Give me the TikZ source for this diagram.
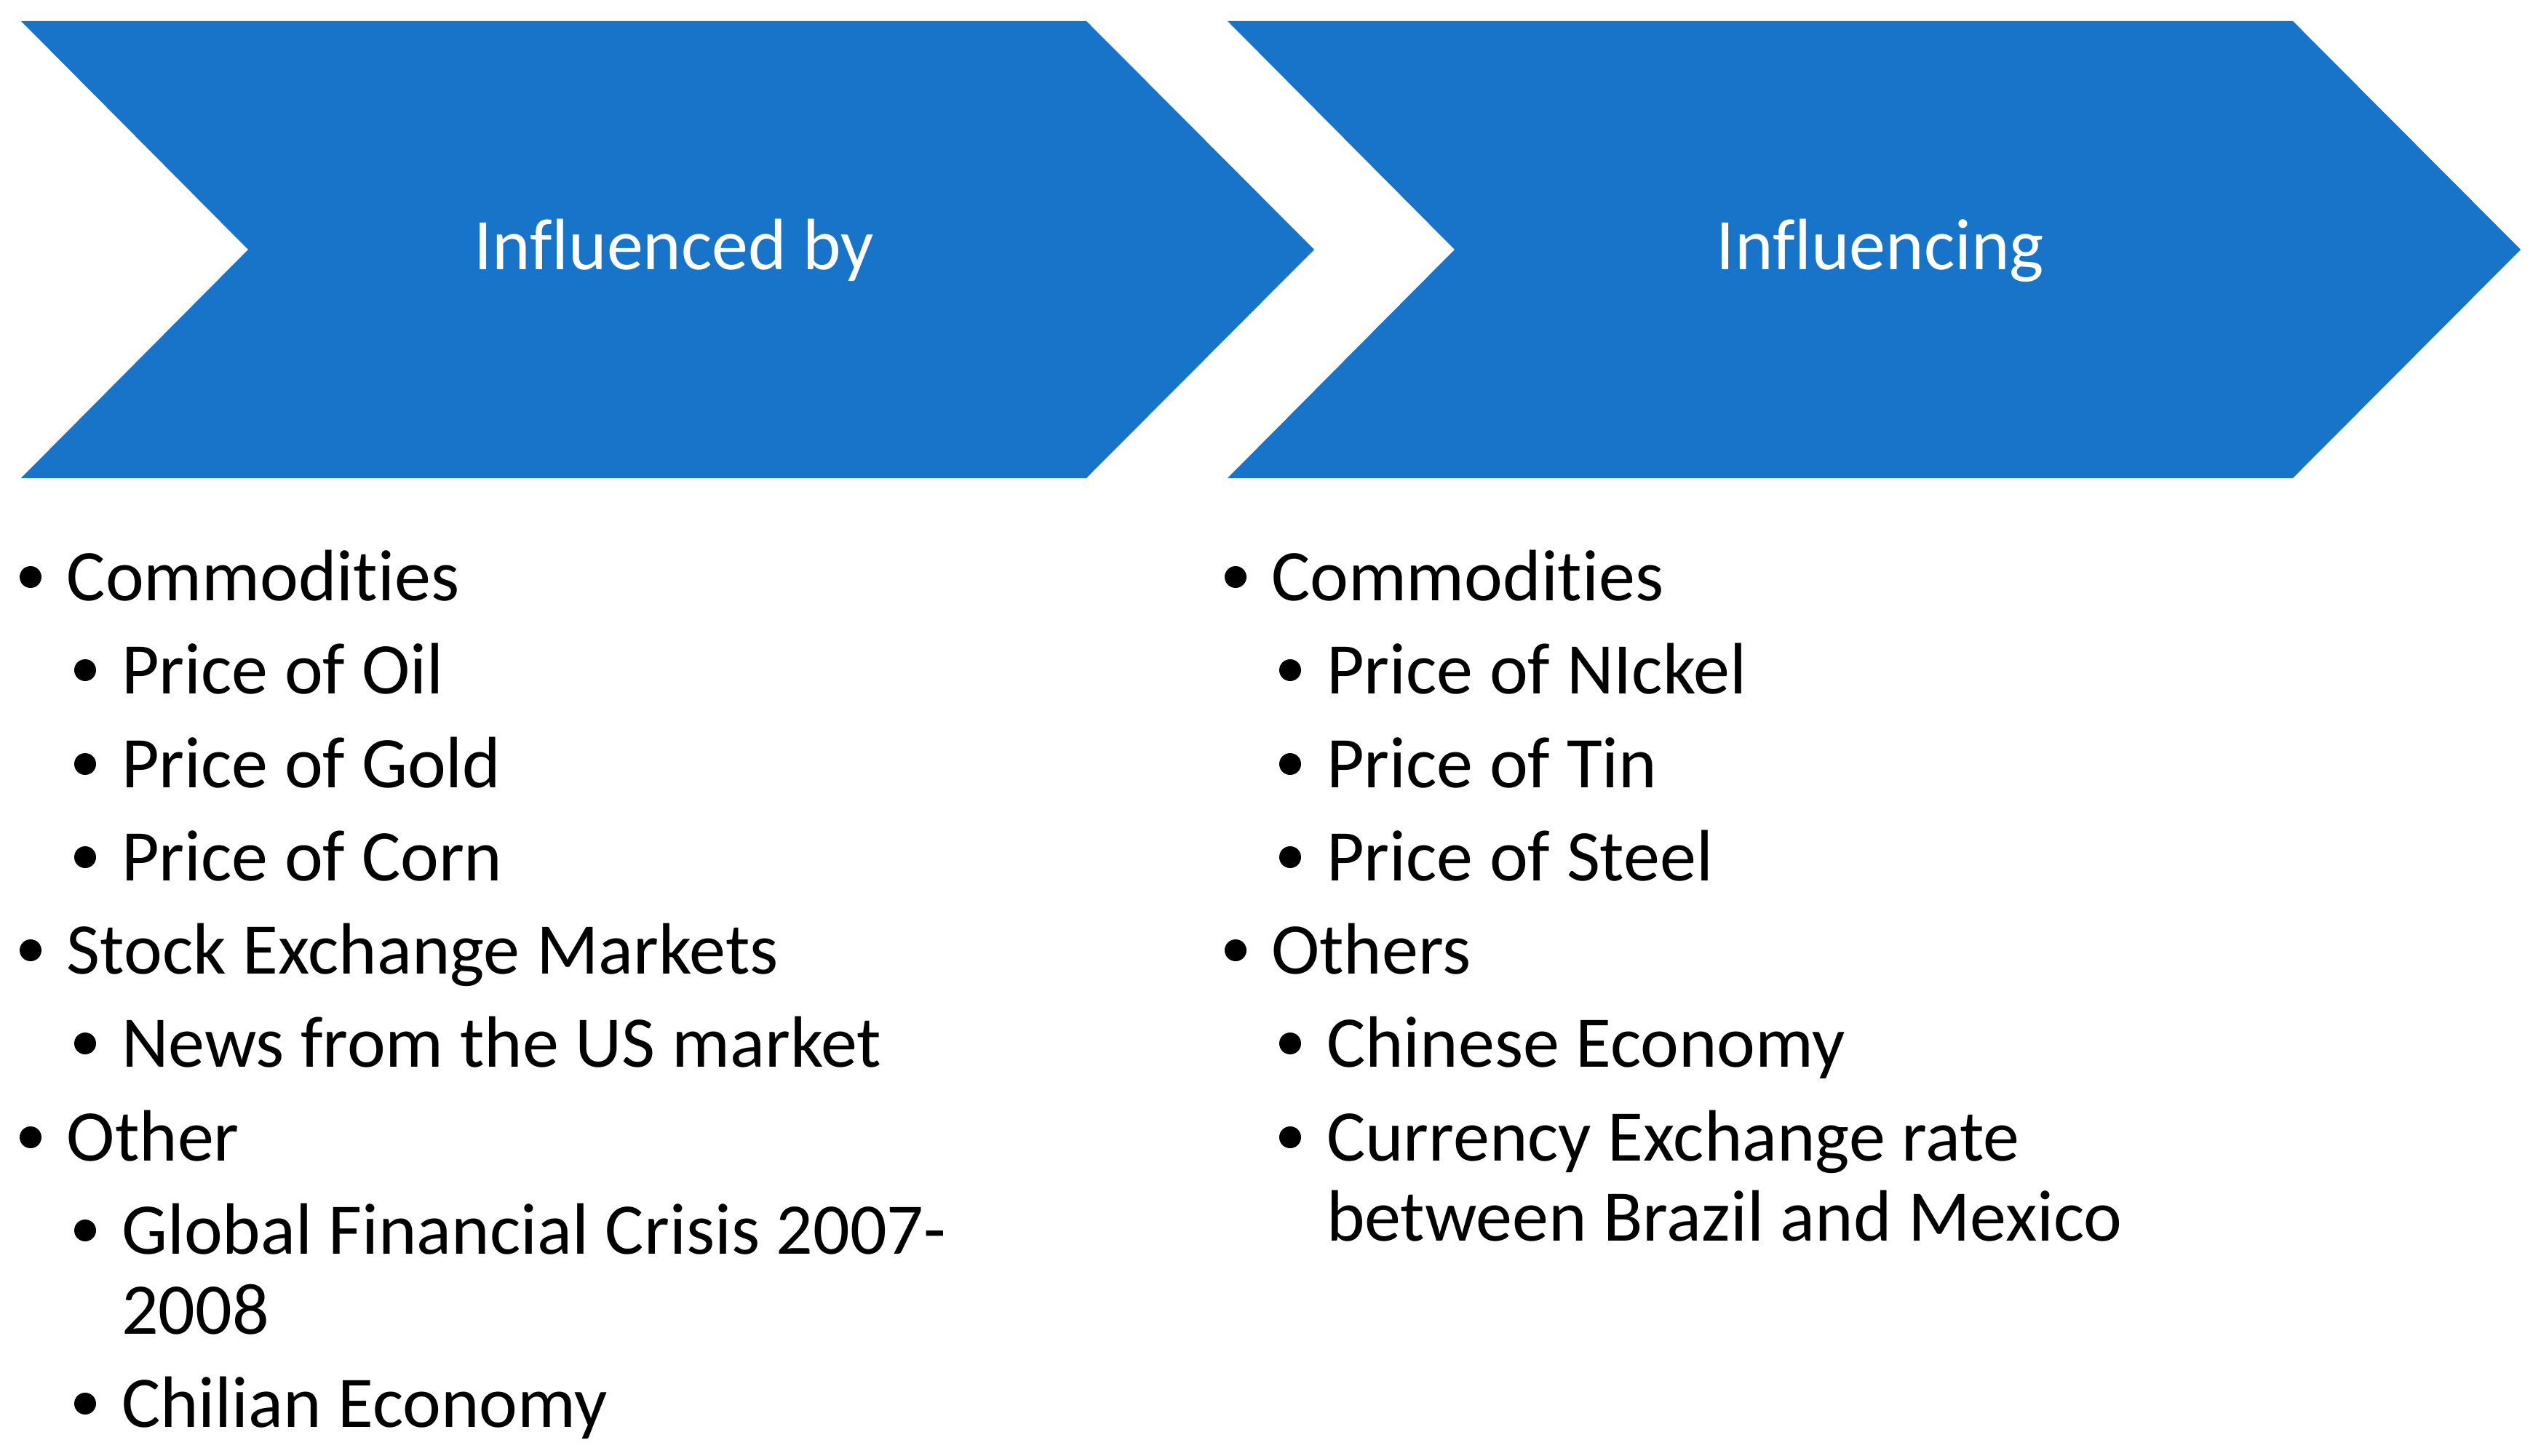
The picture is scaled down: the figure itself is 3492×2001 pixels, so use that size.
\documentclass[tikz,border=0pt]{standalone}
\usepackage{fontspec}
\setmainfont[Ligatures={NoCommon}]{Carlito}
\definecolor{chev}{RGB}{24,116,200}
\begin{document}
\begin{tikzpicture}[x=0.25pt,y=-0.25pt,
  txt/.style={anchor=base west,inner sep=0pt,outer sep=0pt,font=\fontsize{25}{29}\selectfont,text=black},
  head/.style={anchor=base,inner sep=0pt,outer sep=0pt,font=\fontsize{25}{29}\selectfont,text=white},
  bul/.style={circle,fill=black,inner sep=0pt,minimum size=7.5pt}]
\useasboundingbox (0,0) rectangle (3492,2001);
% chevrons
\fill[chev] (29,29) -- (1493,29) -- (1806,343) -- (1493,657) -- (29,657) -- (341,343) -- cycle;
\fill[chev] (1687,29) -- (3151,29) -- (3464,343) -- (3151,657) -- (1687,657) -- (1999,343) -- cycle;
\node[head] (h1) at (926,370) {Influenced by};
\node[head] (h2) at (2584,370) {Influencing};
% left column
\node[bul] (lb1) at (42,793) {};   \node[txt] (l1) at (92,825) {Commodities};
\node[bul] (lb2) at (117,921) {};  \node[txt] (l2) at (167,953) {Price of Oil};
\node[bul] (lb3) at (117,1050) {}; \node[txt] (l3) at (167,1082) {Price of Gold};
\node[bul] (lb4) at (117,1178) {}; \node[txt] (l4) at (167,1210) {Price of Corn};
\node[bul] (lb5) at (42,1306) {};  \node[txt] (l5) at (92,1338) {Stock Exchange Markets};
\node[bul] (lb6) at (117,1434) {}; \node[txt] (l6) at (167,1466) {News from the US market};
\node[bul] (lb7) at (42,1563) {};  \node[txt] (l7) at (92,1595) {Other};
\node[bul] (lb8) at (117,1691) {}; \node[txt] (l8) at (167,1723) {Global Financial Crisis 2007-};
\node[txt] (l9) at (167,1833) {2008};
\node[bul] (lb10) at (117,1929) {}; \node[txt] (l10) at (167,1961) {Chilian Economy};
% right column
\node[bul] (rb1) at (1698,793) {};  \node[txt] (r1) at (1747,825) {Commodities};
\node[bul] (rb2) at (1773,921) {};  \node[txt] (r2) at (1823,953) {Price of NIckel};
\node[bul] (rb3) at (1773,1050) {}; \node[txt] (r3) at (1823,1082) {Price of Tin};
\node[bul] (rb4) at (1773,1178) {}; \node[txt] (r4) at (1823,1210) {Price of Steel};
\node[bul] (rb5) at (1698,1306) {}; \node[txt] (r5) at (1747,1338) {Others};
\node[bul] (rb6) at (1773,1434) {}; \node[txt] (r6) at (1823,1466) {Chinese Economy};
\node[bul] (rb7) at (1773,1563) {}; \node[txt] (r7) at (1823,1595) {Currency Exchange rate};
\node[txt] (r8) at (1823,1705) {between Brazil and Mexico};
\end{tikzpicture}
\end{document}
